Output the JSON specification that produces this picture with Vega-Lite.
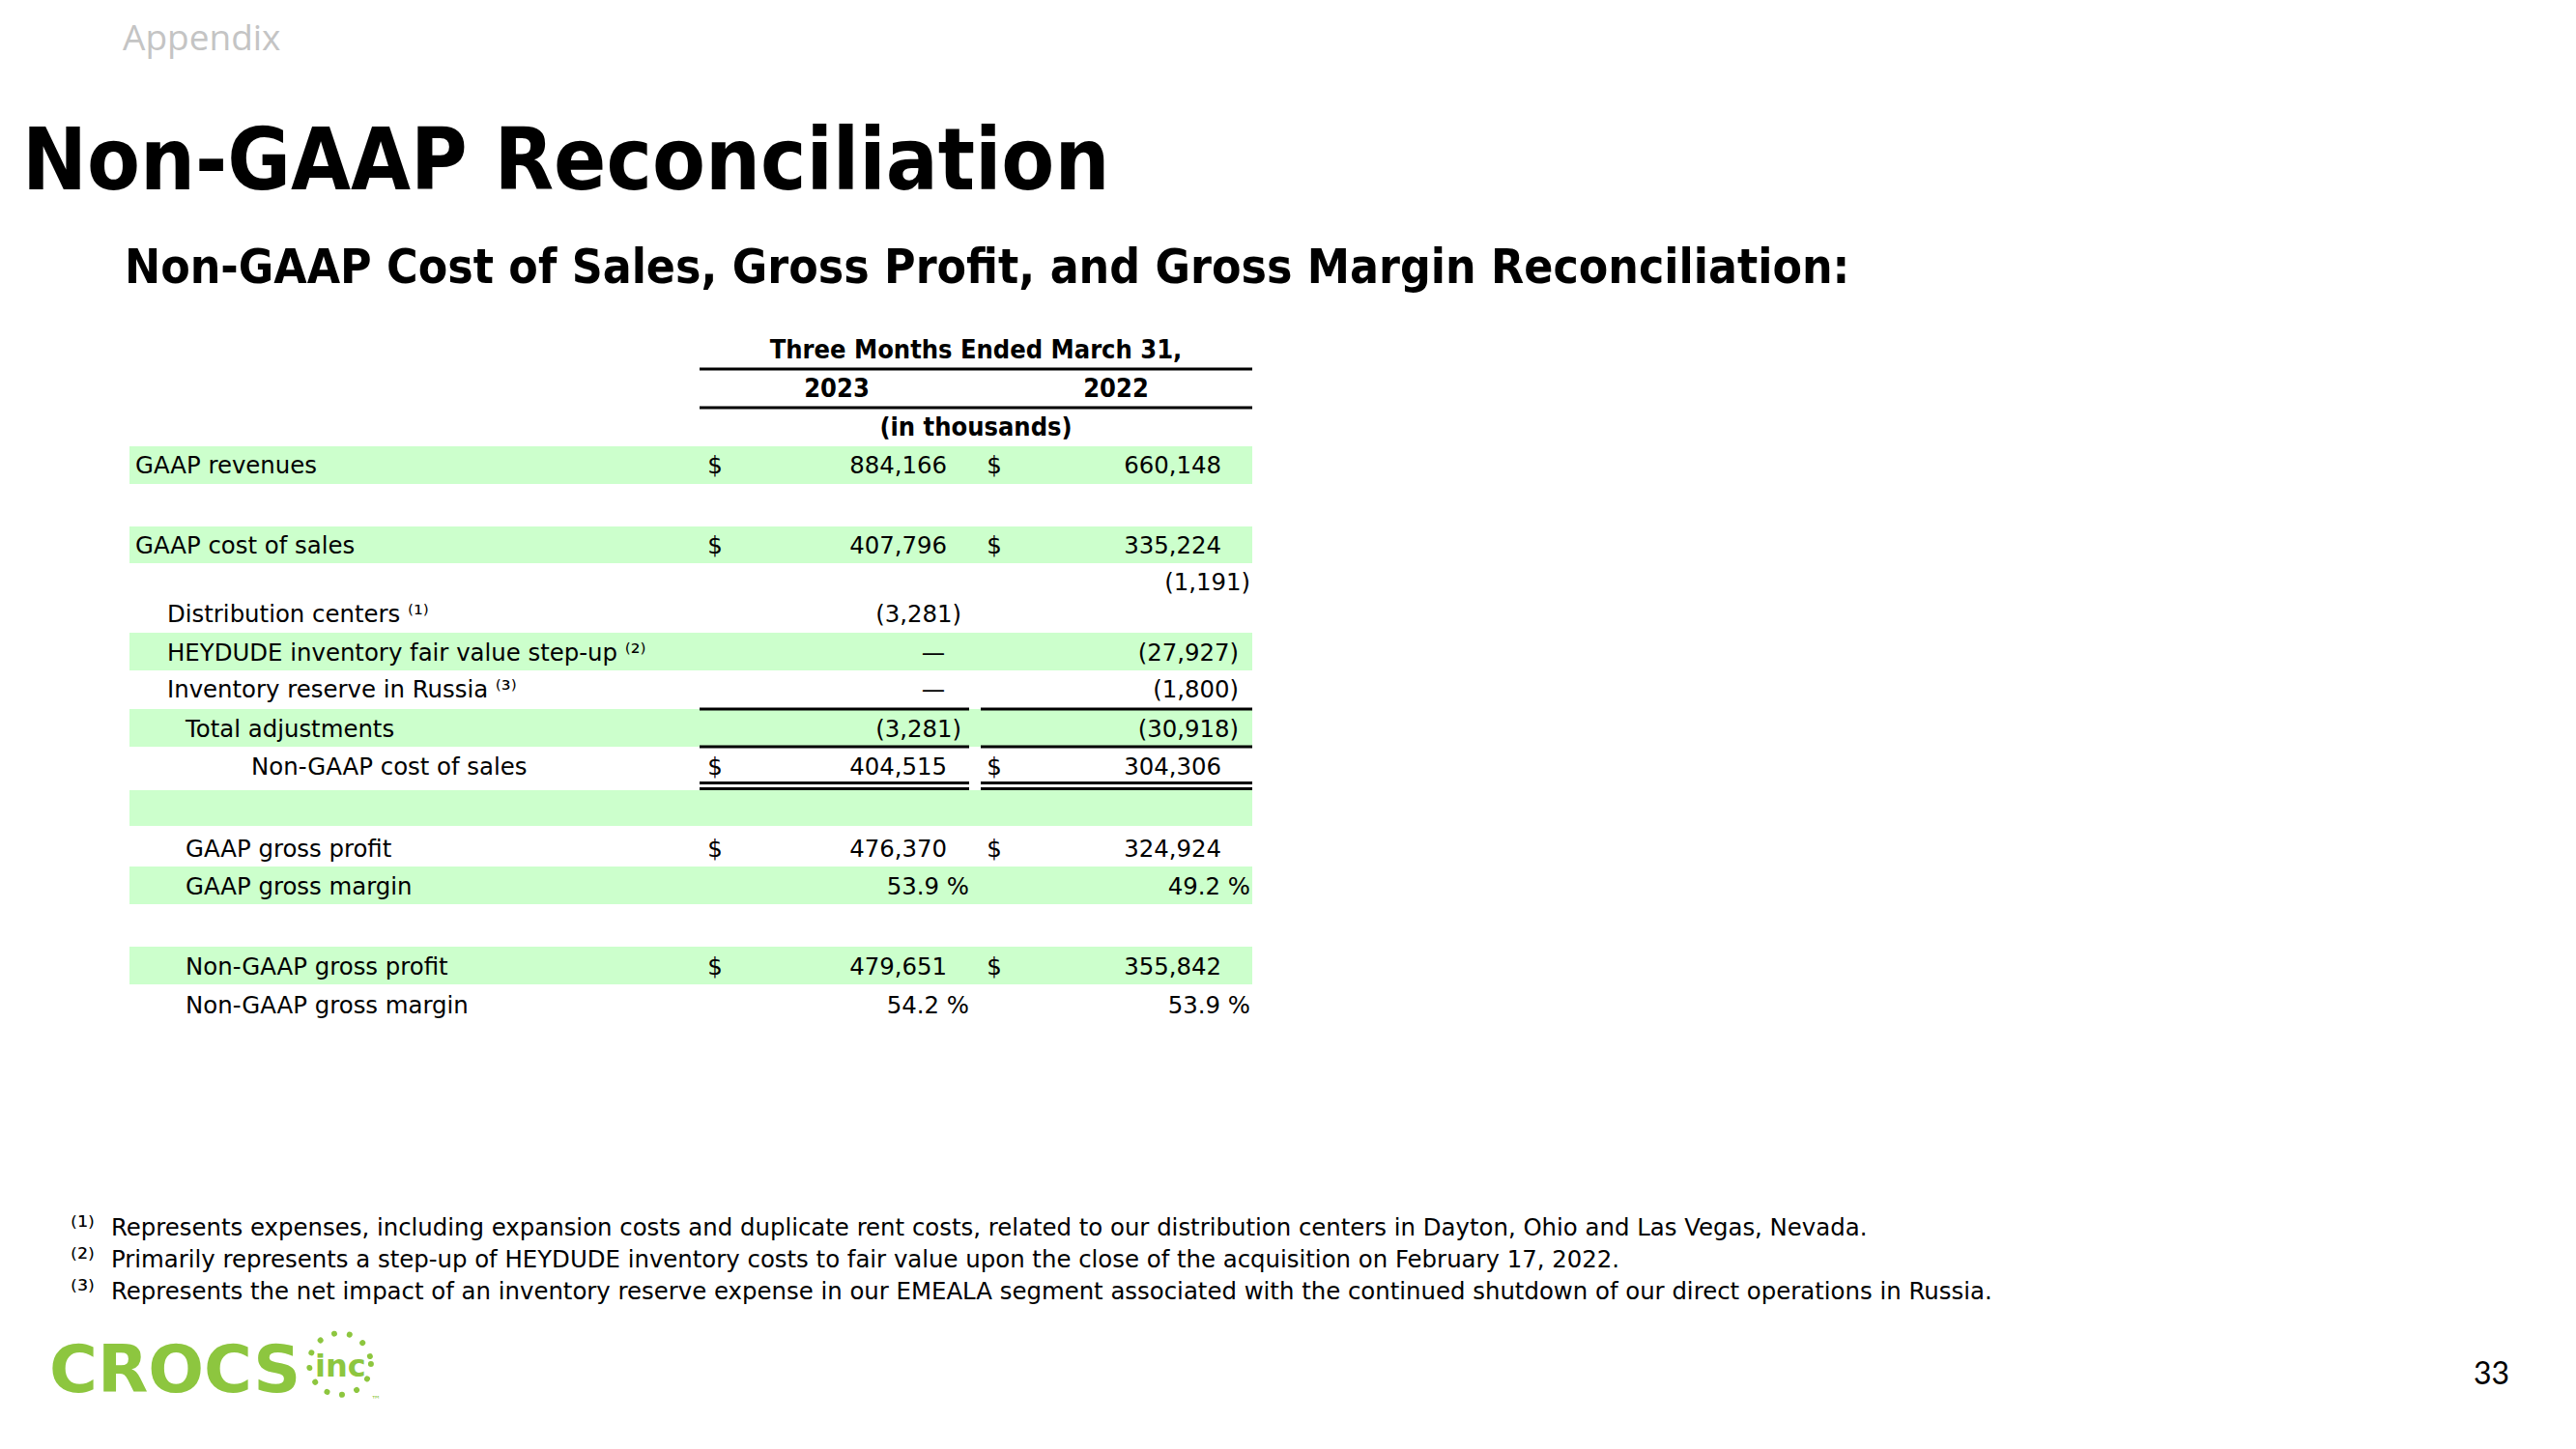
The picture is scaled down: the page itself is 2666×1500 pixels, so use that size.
{
  "$schema": "https://vega.github.io/schema/vega-lite/v6.json",
  "width": 2666,
  "height": 1500,
  "padding": 0,
  "autosize": {"type": "fit", "contains": "padding"},
  "background": "#ffffff",
  "config": {"view": {"stroke": null}},
  "datasets": {
    "bands": [
      {"c": 6, "c2": 28, "r": 8, "r2": 10},
      {"c": 6, "c2": 28, "r": 11, "r2": 13},
      {"c": 6, "c2": 28, "r": 16, "r2": 18},
      {"c": 6, "c2": 28, "r": 20, "r2": 22},
      {"c": 6, "c2": 28, "r": 26, "r2": 27},
      {"c": 6, "c2": 28, "r": 29, "r2": 31},
      {"c": 6, "c2": 28, "r": 32, "r2": 34}
    ],
    "rules": [
      {"r": 4, "c": 14, "c2": 28},
      {"r": 6, "c": 14, "c2": 28},
      {"r": 20, "c": 14, "c2": 20},
      {"r": 20, "c": 22, "c2": 28},
      {"r": 22, "c": 14, "c2": 20},
      {"r": 22, "c": 22, "c2": 28},
      {"r": 24, "c": 14, "c2": 20},
      {"r": 24, "c": 22, "c2": 28},
      {"r": 25, "c": 14, "c2": 20},
      {"r": 25, "c": 22, "c2": 28}
    ],
    "cells": [
      {"role": "section", "r": 0, "c": 4, "t": "Appendix"},
      {"role": "title", "r": 1, "c": 0, "t": "Non-GAAP Reconciliation"},
      {"role": "subtitle", "r": 2, "c": 5, "t": "Non-GAAP Cost of Sales, Gross Profit, and Gross Margin Reconciliation:"},
      {"role": "head", "r": 3, "c": 21, "t": "Three Months Ended March 31,"},
      {"role": "head", "r": 5, "c": 16, "t": "2023"},
      {"role": "head", "r": 5, "c": 24, "t": "2022"},
      {"role": "head", "r": 7, "c": 21, "t": "(in thousands)"},
      {"role": "label", "r": 9, "c": 7, "t": "GAAP revenues"},
      {"role": "cur", "r": 9, "c": 15, "t": "$"},
      {"role": "amt", "r": 9, "c": 18, "t": "884,166"},
      {"role": "cur", "r": 9, "c": 23, "t": "$"},
      {"role": "amt", "r": 9, "c": 25, "t": "660,148"},
      {"role": "label", "r": 12, "c": 7, "t": "GAAP cost of sales"},
      {"role": "cur", "r": 12, "c": 15, "t": "$"},
      {"role": "amt", "r": 12, "c": 18, "t": "407,796"},
      {"role": "cur", "r": 12, "c": 23, "t": "$"},
      {"role": "amt", "r": 12, "c": 25, "t": "335,224"},
      {"role": "amt", "r": 14, "c": 27, "t": "(1,191)"},
      {"role": "label", "r": 15, "c": 8, "t": "Distribution centers ⁽¹⁾"},
      {"role": "amt", "r": 15, "c": 19, "t": "(3,281)"},
      {"role": "label", "r": 17, "c": 8, "t": "HEYDUDE inventory fair value step-up ⁽²⁾"},
      {"role": "nil", "r": 17, "c": 17, "t": "—"},
      {"role": "amt", "r": 17, "c": 26, "t": "(27,927)"},
      {"role": "label", "r": 19, "c": 8, "t": "Inventory reserve in Russia ⁽³⁾"},
      {"role": "nil", "r": 19, "c": 17, "t": "—"},
      {"role": "amt", "r": 19, "c": 26, "t": "(1,800)"},
      {"role": "label", "r": 21, "c": 9, "t": "Total adjustments"},
      {"role": "amt", "r": 21, "c": 19, "t": "(3,281)"},
      {"role": "amt", "r": 21, "c": 26, "t": "(30,918)"},
      {"role": "label", "r": 23, "c": 10, "t": "Non-GAAP cost of sales"},
      {"role": "cur", "r": 23, "c": 15, "t": "$"},
      {"role": "amt", "r": 23, "c": 18, "t": "404,515"},
      {"role": "cur", "r": 23, "c": 23, "t": "$"},
      {"role": "amt", "r": 23, "c": 25, "t": "304,306"},
      {"role": "label", "r": 28, "c": 9, "t": "GAAP gross profit"},
      {"role": "cur", "r": 28, "c": 15, "t": "$"},
      {"role": "amt", "r": 28, "c": 18, "t": "476,370"},
      {"role": "cur", "r": 28, "c": 23, "t": "$"},
      {"role": "amt", "r": 28, "c": 25, "t": "324,924"},
      {"role": "label", "r": 30, "c": 9, "t": "GAAP gross margin"},
      {"role": "amt", "r": 30, "c": 20, "t": "53.9 %"},
      {"role": "amt", "r": 30, "c": 27, "t": "49.2 %"},
      {"role": "label", "r": 33, "c": 9, "t": "Non-GAAP gross profit"},
      {"role": "cur", "r": 33, "c": 15, "t": "$"},
      {"role": "amt", "r": 33, "c": 18, "t": "479,651"},
      {"role": "cur", "r": 33, "c": 23, "t": "$"},
      {"role": "amt", "r": 33, "c": 25, "t": "355,842"},
      {"role": "label", "r": 35, "c": 9, "t": "Non-GAAP gross margin"},
      {"role": "amt", "r": 35, "c": 20, "t": "54.2 %"},
      {"role": "amt", "r": 35, "c": 27, "t": "53.9 %"},
      {"role": "fnmark", "r": 36, "c": 2, "t": "⁽¹⁾"},
      {"role": "footnote", "r": 36, "c": 3, "t": "Represents expenses, including expansion costs and duplicate rent costs, related to our distribution centers in Dayton, Ohio and Las Vegas, Nevada."},
      {"role": "fnmark", "r": 37, "c": 2, "t": "⁽²⁾"},
      {"role": "footnote", "r": 37, "c": 3, "t": "Primarily represents a step-up of HEYDUDE inventory costs to fair value upon the close of the acquisition on February 17, 2022."},
      {"role": "fnmark", "r": 38, "c": 2, "t": "⁽³⁾"},
      {"role": "footnote", "r": 38, "c": 3, "t": "Represents the net impact of an inventory reserve expense in our EMEALA segment associated with the continued shutdown of our direct operations in Russia."},
      {"role": "ring", "r": 39, "c": 12, "t": ""},
      {"role": "logoinc", "r": 40, "c": 11, "t": "inc"},
      {"role": "page", "r": 41, "c": 29, "t": "33"},
      {"role": "logo", "r": 42, "c": 1, "t": "CROCS"},
      {"role": "tm", "r": 43, "c": 13, "t": "™"}
    ]
  },
  "encoding": {
    "x": {
      "field": "c", "type": "quantitative", "axis": null,
      "scale": {
        "domain": [0,1,2,3,4,5,6,7,8,9,10,11,12,13,14,15,16,17,18,19,20,21,22,23,24,25,26,27,28,29],
        "range": [23,51,73,115,127,129,134,140,173,192,260,326,352,384,724,740,866,966,980,995,1003,1010,1015,1029,1155,1264,1282,1294,1296,2597],
        "nice": false, "zero": false
      }
    },
    "y": {
      "field": "r", "type": "quantitative", "axis": null,
      "scale": {
        "domain": [0,1,2,3,4,5,6,7,8,9,10,11,12,13,14,15,16,17,18,19,20,21,22,23,24,25,26,27,28,29,30,31,32,33,34,35,36,37,38,39,40,41,42,43],
        "range": [52,196,293,371,382,411,422,451,462,490,501,545,573,583,611,644,655,684,694,722,734,763,773,802,810.5,816.5,818,855,887,897,926,936,980,1009,1019,1049,1279,1312,1345,1412,1425,1433,1441,1452],
        "nice": false, "zero": false
      }
    }
  },
  "layer": [
    {
      "data": {"name": "bands"},
      "mark": {"type": "rect", "color": "#ccffcc"},
      "encoding": {"x2": {"field": "c2"}, "y2": {"field": "r2"}}
    },
    {
      "data": {"name": "rules"},
      "mark": {"type": "rule", "color": "#000000", "strokeWidth": 3},
      "encoding": {"x2": {"field": "c2"}}
    },
    {
      "data": {"name": "cells"},
      "transform": [{"filter": "datum.role === 'section'"}],
      "mark": {"type": "text", "align": "left", "baseline": "alphabetic", "font": "Open Sans", "fontSize": 37, "color": "#c4c4c4"},
      "encoding": {"text": {"field": "t"}}
    },
    {
      "data": {"name": "cells"},
      "transform": [{"filter": "datum.role === 'title'"}],
      "mark": {"type": "text", "align": "left", "baseline": "alphabetic", "font": "DejaVu Sans Condensed", "fontWeight": "bold", "fontSize": 89, "color": "#000000"},
      "encoding": {"text": {"field": "t"}}
    },
    {
      "data": {"name": "cells"},
      "transform": [{"filter": "datum.role === 'subtitle'"}],
      "mark": {"type": "text", "align": "left", "baseline": "alphabetic", "font": "DejaVu Sans Condensed", "fontWeight": "bold", "fontSize": 49.4, "color": "#000000"},
      "encoding": {"text": {"field": "t"}}
    },
    {
      "data": {"name": "cells"},
      "transform": [{"filter": "datum.role === 'head'"}],
      "mark": {"type": "text", "align": "center", "baseline": "alphabetic", "font": "DejaVu Sans Condensed", "fontWeight": "bold", "fontSize": 27, "color": "#000000"},
      "encoding": {"text": {"field": "t"}}
    },
    {
      "data": {"name": "cells"},
      "transform": [{"filter": "datum.role === 'label'"}],
      "mark": {"type": "text", "align": "left", "baseline": "alphabetic", "font": "DejaVu Sans", "fontSize": 24.4, "color": "#000000"},
      "encoding": {"text": {"field": "t"}}
    },
    {
      "data": {"name": "cells"},
      "transform": [{"filter": "datum.role === 'cur' || datum.role === 'nil'"}],
      "mark": {"type": "text", "align": "center", "baseline": "alphabetic", "font": "DejaVu Sans", "fontSize": 24.4, "color": "#000000"},
      "encoding": {"text": {"field": "t"}}
    },
    {
      "data": {"name": "cells"},
      "transform": [{"filter": "datum.role === 'amt'"}],
      "mark": {"type": "text", "align": "right", "baseline": "alphabetic", "font": "DejaVu Sans", "fontSize": 24.4, "color": "#000000"},
      "encoding": {"text": {"field": "t"}}
    },
    {
      "data": {"name": "cells"},
      "transform": [{"filter": "datum.role === 'fnmark'"}],
      "mark": {"type": "text", "align": "left", "baseline": "alphabetic", "font": "DejaVu Sans", "fontSize": 28, "color": "#000000"},
      "encoding": {"text": {"field": "t"}}
    },
    {
      "data": {"name": "cells"},
      "transform": [{"filter": "datum.role === 'footnote'"}],
      "mark": {"type": "text", "align": "left", "baseline": "alphabetic", "font": "DejaVu Sans", "fontSize": 24.4, "color": "#000000"},
      "encoding": {"text": {"field": "t"}}
    },
    {
      "data": {"name": "cells"},
      "transform": [{"filter": "datum.role === 'page'"}],
      "mark": {"type": "text", "align": "right", "baseline": "alphabetic", "font": "Lato", "fontSize": 32, "color": "#000000"},
      "encoding": {"text": {"field": "t"}}
    },
    {
      "data": {"name": "cells"},
      "transform": [{"filter": "datum.role === 'logo'"}],
      "mark": {"type": "text", "align": "left", "baseline": "alphabetic", "font": "DejaVu Sans", "fontWeight": "bold", "fontSize": 68, "color": "#8dc63f"},
      "encoding": {"text": {"field": "t"}}
    },
    {
      "data": {"name": "cells"},
      "transform": [{"filter": "datum.role === 'logoinc'"}],
      "mark": {"type": "text", "align": "left", "baseline": "alphabetic", "font": "DejaVu Sans", "fontWeight": "bold", "fontSize": 32, "color": "#8dc63f"},
      "encoding": {"text": {"field": "t"}}
    },
    {
      "data": {"name": "cells"},
      "transform": [{"filter": "datum.role === 'tm'"}],
      "mark": {"type": "text", "align": "left", "baseline": "alphabetic", "font": "DejaVu Sans", "fontSize": 10, "color": "#8dc63f"},
      "encoding": {"text": {"field": "t"}}
    },
    {
      "data": {"name": "cells"},
      "transform": [{"filter": "datum.role === 'ring'"}],
      "mark": {"type": "point", "shape": "circle", "filled": false, "size": 4070, "stroke": "#8dc63f", "strokeWidth": 6, "strokeDash": [0.001, 16], "strokeCap": "round", "opacity": 1}
    }
  ]
}
